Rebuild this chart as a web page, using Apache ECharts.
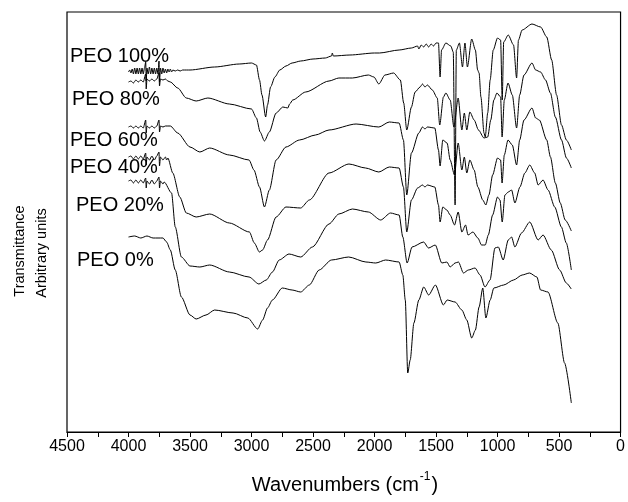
<!DOCTYPE html>
<html>
<head>
<meta charset="utf-8">
<script src="https://cdn.jsdelivr.net/npm/echarts@6/dist/echarts.min.js"></script>
<style>
html,body{margin:0;padding:0;background:#fff;}
#c{width:628px;height:502px;}
</style>
</head>
<body>
<div id="c"></div>
<script>
// x: wavenumber (cm-1), y: transmittance (arbitrary units, curves offset)
var xTicks = [4500, 4000, 3500, 3000, 2500, 2000, 1500, 1000, 500, 0];
var seriesNames = ['PEO 100%', 'PEO 80%', 'PEO 60%', 'PEO 40%', 'PEO 20%', 'PEO 0%'];

var peo100 = [[4000,360],[3990,362],[3980,359],[3970,363],[3960,358],[3950,364],[3940,358],[3930,364],[3920,358],[3910,364],[3900,358],[3890,364],[3880,358],[3870,364],[3860,370],[3856,351],[3850,364],[3840,358],[3830,365],[3820,358],[3810,364],[3800,358],[3790,364],[3780,358],[3770,364],[3760,358],[3752,371],[3748,350],[3740,364],[3730,358],[3720,364],[3710,359],[3700,363],[3690,359],[3680,363],[3670,360],[3660,363],[3650,360],[3640,362],[3620,361],[3600,362],[3580,361],[3560,362],[3500,362],[3300,365],[3100,368],[3000,369],[2960,367],[2935,352],[2915,337],[2885,315],[2870,327],[2845,345],[2810,355],[2770,362],[2720,366],[2670,369],[2600,371],[2500,373],[2400,374],[2350,376],[2343,379],[2335,376],[2200,377],[2000,379],[1960,379],[1800,382],[1700,384],[1650,386],[1640,383],[1620,387],[1600,385],[1580,388],[1560,385],[1540,388],[1520,386],[1500,389],[1480,389],[1467,355],[1455,382],[1420,389],[1380,386],[1360,380],[1345,227],[1335,382],[1310,389],[1285,365],[1265,389],[1245,365],[1210,393],[1180,382],[1162,362],[1150,359],[1135,335],[1110,299],[1100,295],[1080,319],[1060,352],[1035,382],[1000,394],[975,392],[962,332],[950,390],[913,397],[870,387],[845,354],[830,392],[800,402],[720,408],[650,405],[600,395],[560,372],[520,337],[480,307],[440,292],[400,282]];

var peo80 = [[4000,350],[3980,351],[3960,349],[3940,352],[3920,350],[3900,352],[3880,350],[3860,358],[3856,343],[3850,353],[3830,351],[3810,353],[3790,351],[3770,353],[3752,359],[3748,346],[3740,353],[3720,352],[3700,353],[3680,351],[3660,350],[3600,344],[3530,334],[3450,331],[3355,334],[3180,328],[3000,323],[2960,314],[2930,300],[2895,291],[2855,300],[2800,319],[2745,325],[2705,324],[2690,328],[2665,332],[2560,340],[2370,351],[2290,354],[2180,354],[2050,357],[2005,355],[1965,348],[1915,357],[1845,359],[1790,352],[1763,329],[1738,302],[1700,325],[1670,340],[1630,345],[1610,348],[1590,345],[1570,347],[1530,342],[1490,334],[1470,307],[1440,335],[1420,339],[1385,332],[1355,305],[1320,334],[1290,302],[1270,319],[1250,302],[1225,320],[1190,312],[1155,302],[1110,294],[1080,295],[1055,312],[1030,332],[1005,339],[975,335],[963,295],[945,332],[915,349],[880,337],[845,304],[820,337],[785,357],[720,369],[690,362],[650,360],[610,352],[570,339],[530,315],[480,292],[440,274],[400,264]];

var peo60 = [[4000,305],[3980,306],[3960,304],[3940,306],[3920,304],[3900,306],[3880,304],[3860,312],[3856,299],[3850,306],[3830,304],[3810,306],[3790,304],[3770,306],[3752,312],[3748,300],[3740,306],[3720,305],[3700,306],[3660,306],[3600,299],[3500,285],[3420,280],[3340,284],[3180,277],[3020,272],[2980,262],[2935,245],[2895,225],[2855,242],[2800,272],[2720,285],[2610,292],[2480,297],[2370,302],[2150,308],[1965,305],[1880,310],[1800,309],[1765,292],[1738,237],[1700,279],[1640,299],[1610,305],[1590,303],[1570,305],[1510,304],[1480,282],[1467,266],[1445,292],[1410,289],[1385,272],[1350,257],[1320,289],[1290,262],[1270,275],[1250,259],[1225,272],[1190,262],[1160,245],[1120,232],[1095,227],[1070,237],[1040,257],[1000,274],[975,272],[963,249],[945,277],[915,292],[880,287],[845,267],[820,292],[785,312],[720,324],[690,314],[660,312],[600,292],[570,275],[530,249],[490,229],[450,212],[400,201]];

var peo40 = [[4000,275],[3980,276],[3960,273],[3940,276],[3920,273],[3900,276],[3880,273],[3860,279],[3856,267],[3850,275],[3830,272],[3810,276],[3790,272],[3770,276],[3752,280],[3748,266],[3740,275],[3720,272],[3700,275],[3690,272],[3680,274],[3640,259],[3583,235],[3530,219],[3450,215],[3340,218],[3180,209],[3017,200],[2977,189],[2936,180],[2910,182],[2870,192],[2800,215],[2720,225],[2600,224],[2530,232],[2370,259],[2208,268],[2073,264],[1965,260],[1880,265],[1800,264],[1765,245],[1738,200],[1700,232],[1650,244],[1610,247],[1590,245],[1570,247],[1510,245],[1480,227],[1467,210],[1445,225],[1412,222],[1385,217],[1350,207],[1320,220],[1290,200],[1260,207],[1240,197],[1200,200],[1160,194],[1130,187],[1100,187],[1075,197],[1040,217],[1000,235],[980,232],[962,210],[940,237],[913,240],[886,242],[859,229],[818,245],[778,259],[738,267],[698,259],[670,247],[630,252],[589,242],[535,225],[481,205],[441,189],[400,162]];

var peo20 = [[4000,251],[3980,252],[3960,249],[3940,252],[3920,249],[3900,252],[3880,249],[3860,254],[3856,244],[3850,251],[3830,248],[3810,252],[3790,248],[3770,251],[3752,255],[3748,244],[3740,251],[3720,248],[3710,250],[3650,239],[3620,205],[3570,175],[3500,166],[3420,165],[3340,167],[3180,160],[3020,155],[2940,148],[2880,152],[2830,160],[2775,172],[2695,178],[2600,175],[2505,185],[2370,208],[2290,218],[2180,223],[2050,220],[1950,212],[1870,219],[1800,217],[1770,195],[1735,169],[1695,185],[1601,190],[1561,184],[1506,187],[1453,169],[1412,170],[1385,165],[1345,169],[1318,170],[1277,159],[1237,162],[1183,164],[1142,157],[1102,145],[1061,152],[1021,184],[994,185],[954,172],[913,192],[886,195],[859,185],[805,199],[738,210],[670,192],[630,197],[563,182],[495,162],[441,149],[401,143]];

var peo0 = [[4000,195],[3950,196],[3900,194],[3850,196],[3800,194],[3720,194],[3690,190],[3660,182],[3620,162],[3570,135],[3500,117],[3450,113],[3370,117],[3300,122],[3150,119],[3030,114],[2950,103],[2910,112],[2870,124],[2830,132],[2750,144],[2670,142],[2600,140],[2530,147],[2450,162],[2350,172],[2210,175],[2070,170],[1990,169],[1910,172],[1800,170],[1770,157],[1750,132],[1730,59],[1710,72],[1680,109],[1640,132],[1600,145],[1560,137],[1505,147],[1440,127],[1410,132],[1345,130],[1290,122],[1250,112],[1210,94],[1180,102],[1150,125],[1120,144],[1095,114],[1060,132],[1030,144],[950,147],[870,152],[800,157],[740,159],[680,155],[650,142],[590,140],[510,109],[455,69],[400,29]];

var allData = [peo100, peo80, peo60, peo40, peo20, peo0];

var chart = echarts.init(document.getElementById('c'), null, {renderer: 'canvas'});
var FONT = 'Liberation Sans, Arial, sans-serif';

var labelPos = [[70,57],[72,100],[70,141],[70,168],[76,206],[77,261]];
var graphics = seriesNames.map(function (n, i) {
  return {
    type: 'text', left: labelPos[i][0], top: labelPos[i][1] - 11,
    style: {text: n, fill: '#000', font: '20px ' + FONT}
  };
});
graphics.push({
  type: 'text', x: 20, y: 251, rotation: Math.PI / 2,
  style: {text: 'Transmittance', fill: '#000', font: '14.5px ' + FONT, align: 'center', verticalAlign: 'middle'}
});
graphics.push({
  type: 'text', x: 42, y: 253, rotation: Math.PI / 2,
  style: {text: 'Arbitrary units', fill: '#000', font: '14.5px ' + FONT, align: 'center', verticalAlign: 'middle'}
});
graphics.push({
  type: 'text', x: 345, y: 483,
  style: {
    text: '{a|Wavenumbers (cm}{s|-1}{a|)}',
    align: 'center', verticalAlign: 'middle',
    rich: {
      a: {fontSize: 20, fontFamily: FONT, fill: '#000', lineHeight: 24, verticalAlign: 'bottom'},
      s: {fontSize: 12, fontFamily: FONT, fill: '#000', lineHeight: 24, verticalAlign: 'top', padding: [0, 1, 0, 1]}
    }
  }
});

chart.setOption({
  animation: false,
  backgroundColor: '#fff',
  grid: {left: 67, right: 5, top: 12, bottom: 70, show: true, borderColor: '#000', borderWidth: 1.2, backgroundColor: 'transparent'},
  xAxis: {
    type: 'value', min: 0, max: 4500, interval: 500, inverse: true,
    axisLine: {show: true, lineStyle: {color: '#000', width: 1.2}},
    axisTick: {show: true, length: 5, inside: false, lineStyle: {color: '#000', width: 1}},
    minorTick: {show: true, splitNumber: 2, length: 5, lineStyle: {color: '#000', width: 1}},
    splitLine: {show: false},
    axisLabel: {color: '#000', fontSize: 16, fontFamily: FONT, margin: 7,
      formatter: function (v) { return xTicks.indexOf(v) >= 0 ? String(v) : ''; }}
  },
  yAxis: {
    type: 'value', min: 0, max: 420,
    axisLine: {show: false}, axisTick: {show: false}, axisLabel: {show: false}, splitLine: {show: false}
  },
  graphic: graphics,
  series: allData.map(function (d, i) {
    return {
      name: seriesNames[i], type: 'line', data: d, showSymbol: false, symbol: 'none',
      smooth: 0.25, smoothMonotone: 'x',
      lineStyle: {color: '#000', width: 1}, silent: true
    };
  })
});
</script>
</body>
</html>
